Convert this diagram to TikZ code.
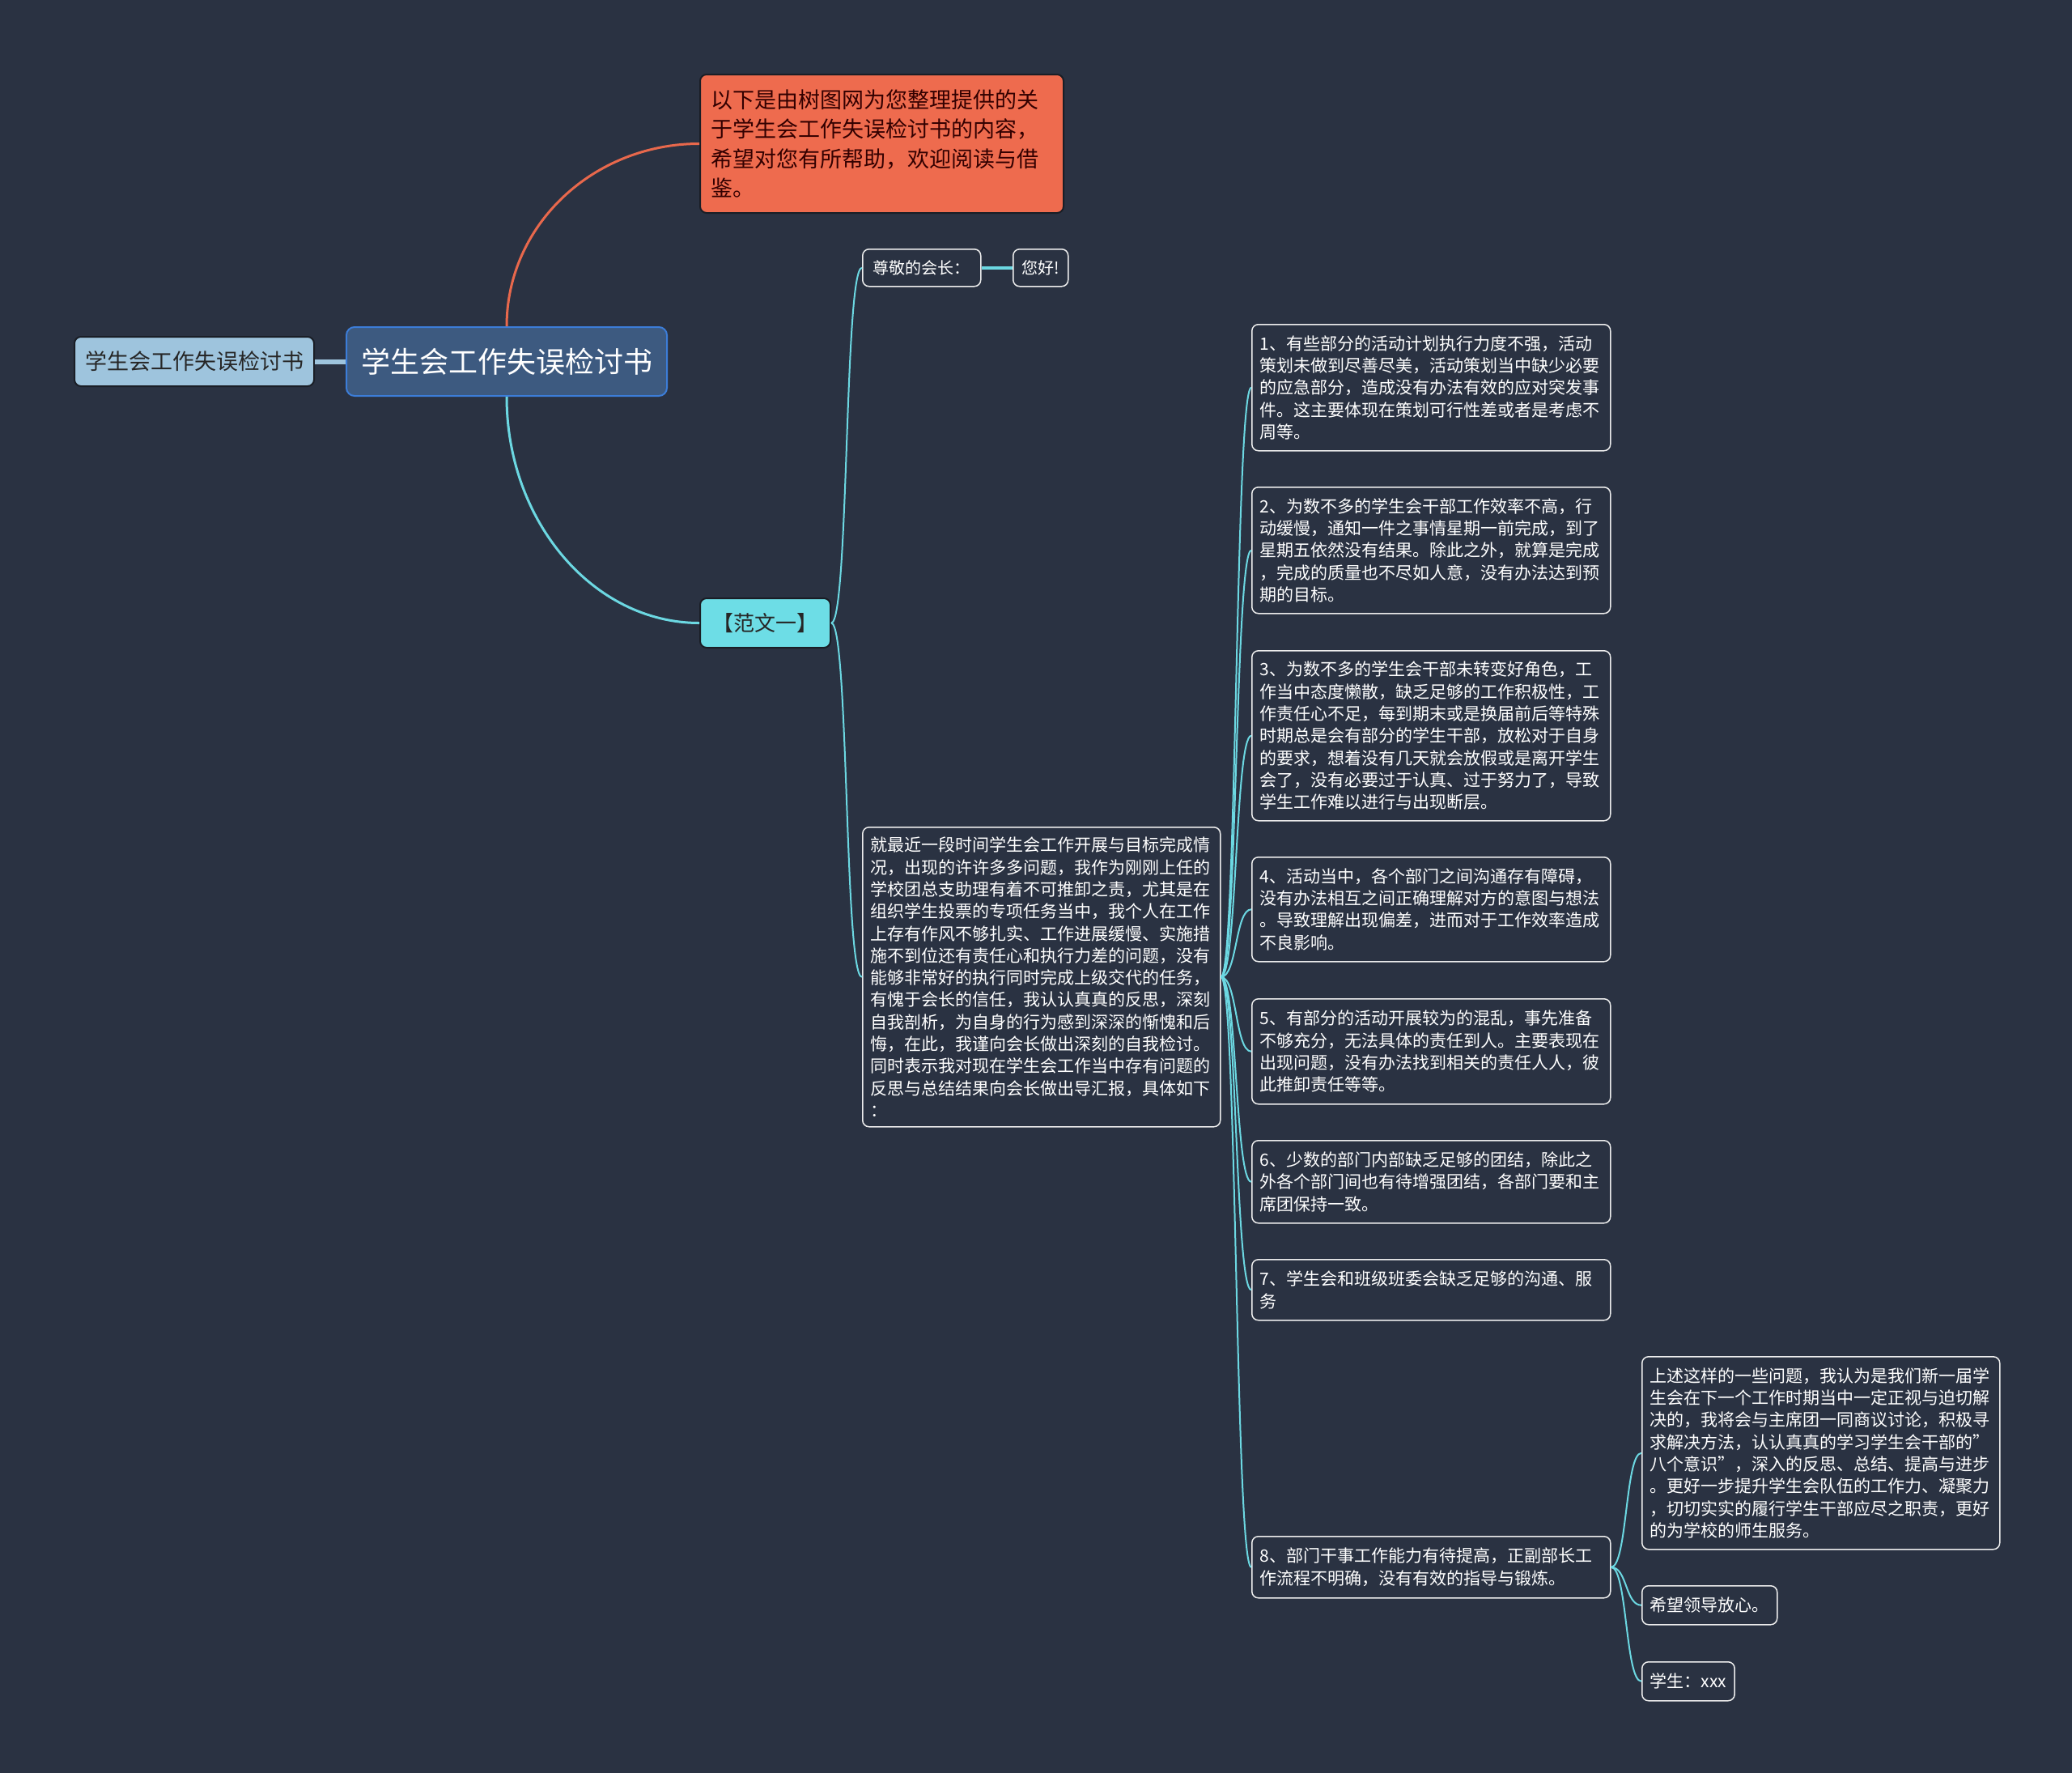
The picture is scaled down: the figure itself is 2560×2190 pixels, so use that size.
\documentclass[tikz,border=0pt]{standalone}
\usepackage{fontspec}
\setmainfont{Noto Sans CJK SC}
\definecolor{bgc}{HTML}{2A3242}
\definecolor{cy}{HTML}{6CD8E2}
\definecolor{orl}{HTML}{E8684C}
\definecolor{ornode}{HTML}{EE6B4E}
\definecolor{ctfill}{HTML}{3D5A80}
\definecolor{ctdraw}{HTML}{3C7DD8}
\definecolor{ltfill}{HTML}{9EC4DD}
\definecolor{fwfill}{HTML}{6DDDE6}
\definecolor{darkline}{HTML}{1A1E26}
\definecolor{wline}{HTML}{EDEDED}
\begin{document}
\begin{tikzpicture}[x=1pt,y=-1pt,
  base/.style={anchor=north west, rounded corners=8pt, inner ysep=0pt, inner xsep=10pt},
  wbox/.style={base, draw=wline, line width=1.5pt, fill=bgc, text=white, align=left,
    font=\fontsize{21pt}{27.3pt}\selectfont},
  wsmall/.style={base, draw=wline, line width=1.5pt, fill=bgc, text=white, align=center,
    inner xsep=4pt, font=\fontsize{20pt}{24pt}\selectfont},
  link/.style={draw=cy, line width=2pt},
  mainlink/.style={line width=3pt}
]
\useasboundingbox (0,0) rectangle (2560,2190);
\fill[bgc] (0,0) rectangle (2560,2190);

% main nodes
\node[base, draw=ctdraw, line width=2pt, fill=ctfill, text=white, rounded corners=10pt,
  minimum width=396pt, minimum height=85pt, font=\fontsize{36pt}{40pt}\selectfont] (ct) at (427,403) {学生会工作失误检讨书};
\node[base, draw=darkline, line width=2pt, fill=ltfill, text=black!85, minimum width=296pt,
  minimum height=61pt, font=\fontsize{27pt}{30pt}\selectfont] (lt) at (91,415) {学生会工作失误检讨书};
\node[base, draw=darkline, line width=2pt, fill=ornode, text=black!80!red, align=left,
  inner xsep=13pt, text width=423pt, minimum height=171pt,
  font=\fontsize{27pt}{36.5pt}\selectfont] (or) at (864,91) {以下是由树图网为您整理提供的关\\于学生会工作失误检讨书的内容，\\希望对您有所帮助，欢迎阅读与借\\鉴。};
\node[base, draw=darkline, line width=2pt, fill=fwfill, text=black!85, minimum width=161pt,
  minimum height=61pt, font=\fontsize{26pt}{30pt}\selectfont] (fw) at (864,738) {【范文一】};

\node[wsmall, minimum width=146pt, minimum height=46pt] (zj) at (1065,307) {尊敬的会长：};
\node[wsmall, minimum width=68pt, minimum height=46pt] (nh) at (1251,307) {您好!};

\node[wbox, text width=422pt, minimum height=370pt] (pa) at (1065,1021) {就最近一段时间学生会工作开展与目标完成情\\况，出现的许许多多问题，我作为刚刚上任的\\学校团总支助理有着不可推卸之责，尤其是在\\组织学生投票的专项任务当中，我个人在工作\\上存有作风不够扎实、工作进展缓慢、实施措\\施不到位还有责任心和执行力差的问题，没有\\能够非常好的执行同时完成上级交代的任务，\\有愧于会长的信任，我认认真真的反思，深刻\\自我剖析，为自身的行为感到深深的惭愧和后\\悔，在此，我谨向会长做出深刻的自我检讨。\\同时表示我对现在学生会工作当中存有问题的\\反思与总结结果向会长做出导汇报，具体如下\\：};

\node[wbox, text width=423pt, minimum height=156pt] (i1) at (1546,400) {1、有些部分的活动计划执行力度不强，活动\\策划未做到尽善尽美，活动策划当中缺少必要\\的应急部分，造成没有办法有效的应对突发事\\件。这主要体现在策划可行性差或者是考虑不\\周等。};
\node[wbox, text width=423pt, minimum height=156pt] (i2) at (1546,601) {2、为数不多的学生会干部工作效率不高，行\\动缓慢，通知一件之事情星期一前完成，到了\\星期五依然没有结果。除此之外，就算是完成\\，完成的质量也不尽如人意，没有办法达到预\\期的目标。};
\node[wbox, text width=423pt, minimum height=210pt] (i3) at (1546,803) {3、为数不多的学生会干部未转变好角色，工\\作当中态度懒散，缺乏足够的工作积极性，工\\作责任心不足，每到期末或是换届前后等特殊\\时期总是会有部分的学生干部，放松对于自身\\的要求，想着没有几天就会放假或是离开学生\\会了，没有必要过于认真、过于努力了，导致\\学生工作难以进行与出现断层。};
\node[wbox, text width=423pt, minimum height=129pt] (i4) at (1546,1058) {4、活动当中，各个部门之间沟通存有障碍，\\没有办法相互之间正确理解对方的意图与想法\\。导致理解出现偏差，进而对于工作效率造成\\不良影响。};
\node[wbox, text width=423pt, minimum height=130pt] (i5) at (1546,1233) {5、有部分的活动开展较为的混乱，事先准备\\不够充分，无法具体的责任到人。主要表现在\\出现问题，没有办法找到相关的责任人人，彼\\此推卸责任等等。};
\node[wbox, text width=423pt, minimum height=102pt] (i6) at (1546,1408) {6、少数的部门内部缺乏足够的团结，除此之\\外各个部门间也有待增强团结，各部门要和主\\席团保持一致。};
\node[wbox, text width=423pt, minimum height=75pt] (i7) at (1546,1555) {7、学生会和班级班委会缺乏足够的沟通、服\\务};
\node[wbox, text width=423pt, minimum height=76pt] (i8) at (1546,1897) {8、部门干事工作能力有待提高，正副部长工\\作流程不明确，没有有效的指导与锻炼。};

\node[wbox, text width=422pt, minimum height=238pt] (c1) at (2028,1675) {上述这样的一些问题，我认为是我们新一届学\\生会在下一个工作时期当中一定正视与迫切解\\决的，我将会与主席团一同商议讨论，积极寻\\求解决方法，认认真真的学习学生会干部的"\\八个意识"，深入的反思、总结、提高与进步\\。更好一步提升学生会队伍的工作力、凝聚力\\，切切实实的履行学生干部应尽之职责，更好\\的为学校的师生服务。};
\node[wbox, minimum height=48pt] (c2) at (2028,1958) {希望领导放心。};
\node[wbox, minimum height=48pt] (c3) at (2028,2052) {学生：xxx};

% connectors
\draw[draw=ltfill, line width=6pt] (lt.east) -- (ct.west);
\draw[draw=orl, mainlink] (ct.north) .. controls +(0,-125) and +(-131,0) .. (or.west);
\draw[draw=cy, mainlink] (ct.south) .. controls +(0,154) and +(-131,0) .. (fw.west);
\draw[link] (fw.east) .. controls +(22,0) and +(-22,0) .. (zj.west);
\draw[link] (fw.east) .. controls +(22,0) and +(-22,0) .. (pa.west);
\draw[draw=cy, line width=3.5pt] (zj.east) -- (nh.west);
\foreach \i in {i1,i2,i3,i4,i5,i6,i7,i8}
  \draw[link] (pa.east) .. controls +(20,0) and +(-20,0) .. (\i.west);
\foreach \c in {c1,c2,c3}
  \draw[link] (i8.east) .. controls +(20,0) and +(-20,0) .. (\c.west);
\end{tikzpicture}
\end{document}
